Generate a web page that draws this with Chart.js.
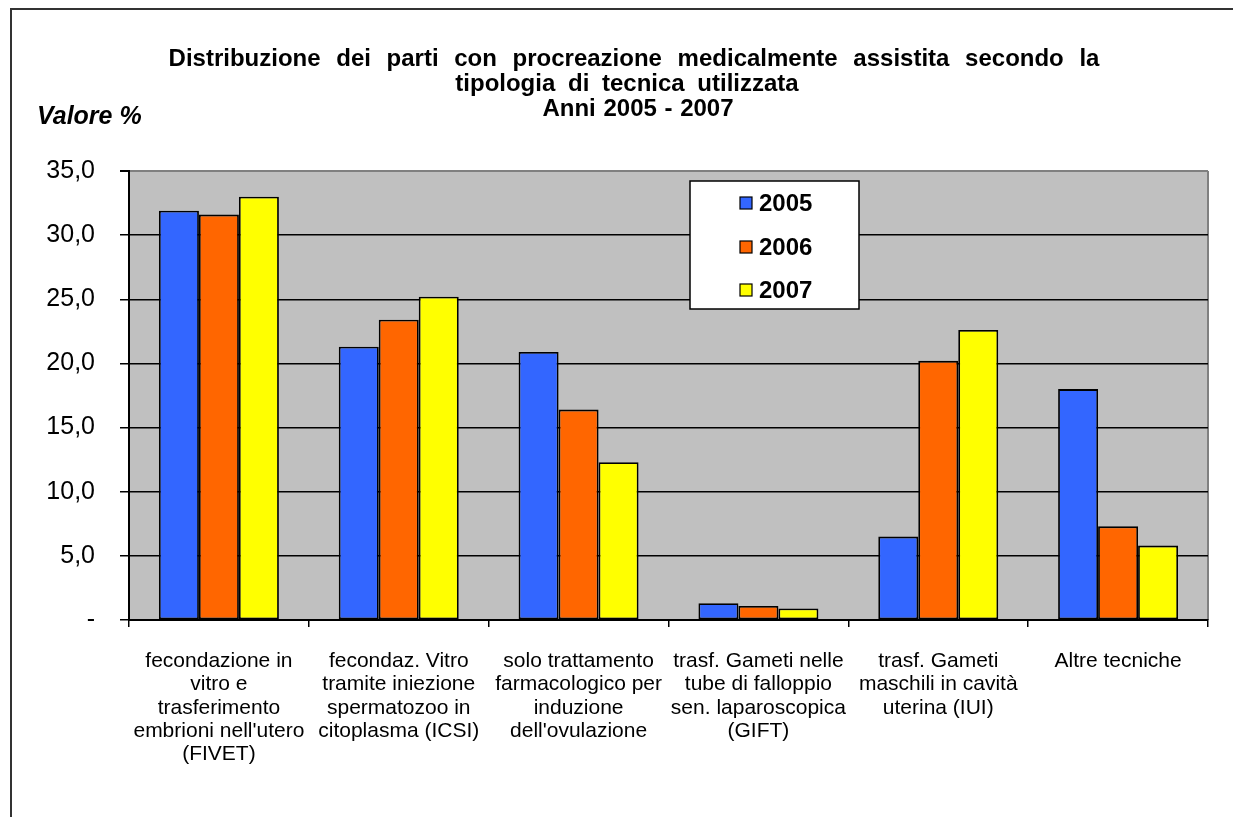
<!DOCTYPE html>
<html>
<head>
<meta charset="utf-8">
<script src="https://cdn.jsdelivr.net/npm/chart.js@4/dist/chart.umd.min.js"></script>
<style>
  html, body { margin: 0; padding: 0; background: #fff; }
  #wrap { width: 1233px; height: 817px; position: relative; }
</style>
</head>
<body>
<div id="wrap"><canvas id="c" width="1233" height="817"></canvas></div>
<script>
// ---- DATA ----
const categories = [
  ["fecondazione in", "vitro e", "trasferimento", "embrioni nell'utero", "(FIVET)"],
  ["fecondaz. Vitro", "tramite iniezione", "spermatozoo in", "citoplasma (ICSI)"],
  ["solo trattamento", "farmacologico per", "induzione", "dell'ovulazione"],
  ["trasf. Gameti nelle", "tube di falloppio", "sen. laparoscopica", "(GIFT)"],
  ["trasf. Gameti", "maschili in cavità", "uterina (IUI)"],
  ["Altre tecniche"]
];
const seriesNames = ["2005", "2006", "2007"];
const values2005 = [31.9, 21.3, 20.9, 1.3, 6.5, 18.0];
const values2006 = [31.6, 23.4, 16.4, 1.1, 20.2, 7.3];
const values2007 = [33.0, 25.2, 12.3, 0.9, 22.6, 5.8];
const titleLines = [
  "Distribuzione dei parti con procreazione medicalmente assistita secondo la",
  "tipologia di tecnica utilizzata",
  "Anni 2005 - 2007"
];
const yAxisLabel = "Valore %";
const yMin = 0, yMax = 35, yStep = 5;

const colors = ["#3366FF", "#FF6600", "#FFFF00"];
const FONT = "'Liberation Sans', Arial, sans-serif";

const decorPlugin = {
  id: 'decor',
  beforeDraw(chart) {
    const ctx = chart.ctx, a = chart.chartArea;
    ctx.save();
    ctx.fillStyle = '#ffffff';
    ctx.fillRect(0, 0, chart.width, chart.height);
    // outer frame
    ctx.strokeStyle = '#333333';
    ctx.lineWidth = 2;
    ctx.strokeRect(11, 9, chart.width + 20, chart.height + 20);
    // plot background
    ctx.fillStyle = '#C0C0C0';
    ctx.fillRect(a.left, a.top, a.right - a.left, a.bottom - a.top);
    // right border
    ctx.strokeStyle = '#808080';
    ctx.lineWidth = 2;
    ctx.beginPath();
    ctx.moveTo(a.right, a.top);
    ctx.lineTo(a.right, a.bottom);
    ctx.stroke();
    // titles
    ctx.fillStyle = '#000';
    ctx.textAlign = 'center';
    ctx.textBaseline = 'middle';
    ctx.font = "bold 24px " + FONT;
    const ys = [59, 84, 109];
    const xs = [634, 627, 638];
    const ws = ['9px', '6px', '1px'];
    titleLines.forEach((t, i) => {
      ctx.wordSpacing = ws[i];
      ctx.fillText(t, xs[i], ys[i]);
    });
    ctx.wordSpacing = '0px';
    ctx.textAlign = 'left';
    ctx.font = "italic bold 25px " + FONT;
    ctx.fillText(yAxisLabel, 37, 117);
    ctx.restore();
  },
  afterDatasetsDraw(chart) {
    // legend box inside plot area
    const ctx = chart.ctx;
    ctx.save();
    const x0 = 690, y0 = 181, w = 169, h = 128;
    ctx.fillStyle = '#fff';
    ctx.fillRect(x0, y0, w, h);
    ctx.strokeStyle = '#000';
    ctx.lineWidth = 1.5;
    ctx.strokeRect(x0, y0, w, h);
    const rowY = [203, 247, 290];
    ctx.font = "bold 24px " + FONT;
    ctx.textBaseline = 'middle';
    ctx.textAlign = 'left';
    chart.data.datasets.forEach((ds, i) => {
      ctx.fillStyle = ds.backgroundColor;
      ctx.fillRect(740, rowY[i] - 6, 12, 12);
      ctx.lineWidth = 1.2;
      ctx.strokeStyle = '#000';
      ctx.strokeRect(740, rowY[i] - 6, 12, 12);
      ctx.fillStyle = '#000';
      ctx.fillText(ds.label, 759, rowY[i] + 1);
    });
    ctx.restore();
  }
};

new Chart(document.getElementById('c'), {
  type: 'bar',
  data: {
    labels: categories,
    datasets: [
      { label: seriesNames[0], data: values2005, backgroundColor: colors[0] },
      { label: seriesNames[1], data: values2006, backgroundColor: colors[1] },
      { label: seriesNames[2], data: values2007, backgroundColor: colors[2] }
    ].map(d => Object.assign(d, { borderColor: '#000', borderWidth: 1.8, borderSkipped: false,
      categoryPercentage: 0.667, barPercentage: 1.0 }))
  },
  options: {
    responsive: false,
    animation: false,
    devicePixelRatio: 1,
    layout: { padding: { left: 0, right: 25, top: 171, bottom: 0 } },
    plugins: {
      legend: { display: false },
      title: { display: false },
      tooltip: { enabled: false }
    },
    scales: {
      x: {
        afterFit(s) { s.height = 197; },
        grid: { drawOnChartArea: false, color: '#000', tickLength: 7, lineWidth: 1.5, offset: true },
        border: { color: '#000', width: 2 },
        ticks: { color: '#000', font: { family: FONT, size: 21, lineHeight: 1.1 }, padding: 23,
                 maxRotation: 0, minRotation: 0, autoSkip: false }
      },
      y: {
        min: yMin, max: yMax,
        afterFit(s) { s.width = 129; },
        grid: {
          color: (c) => (c.tick && c.tick.value === yMax) ? '#808080' : '#000',
          tickColor: '#000',
          lineWidth: (c) => (c.tick && c.tick.value === yMax) ? 2 : 1.5,
          tickLength: 9
        },
        border: { color: '#000', width: 2 },
        ticks: {
          stepSize: yStep, color: '#000', padding: 25,
          font: { family: FONT, size: 25 },
          callback: (v) => v === 0 ? '-' : v.toFixed(1).replace('.', ',')
        }
      }
    }
  },
  plugins: [decorPlugin]
});
</script>
</body>
</html>
